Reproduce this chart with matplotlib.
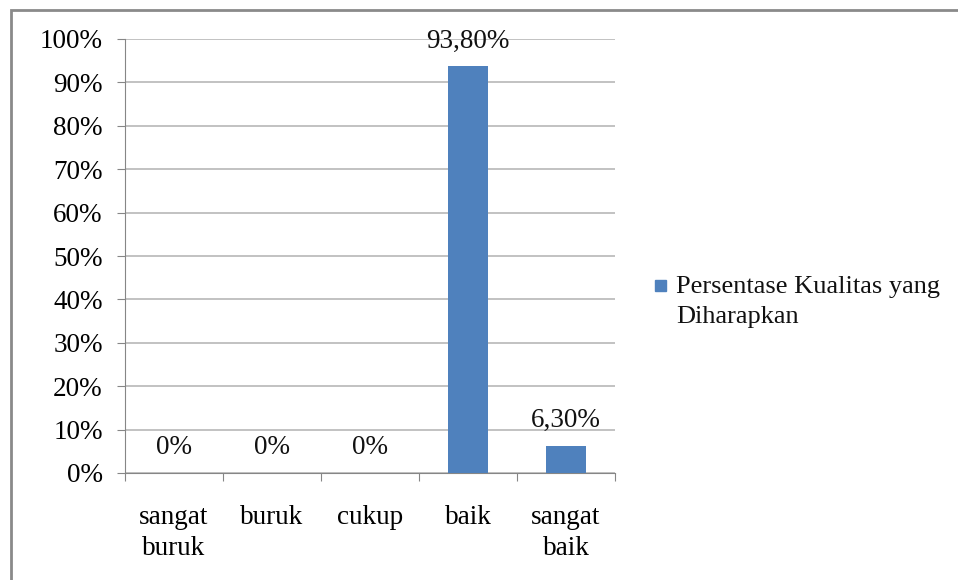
import matplotlib.pyplot as plt
from matplotlib.patches import Rectangle
from matplotlib.ticker import FixedLocator, NullFormatter

categories = ['sangat\nburuk', 'buruk', 'cukup', 'baik', 'sangat\nbaik']
values = [0, 0, 0, 93.8, 6.3]
value_labels = ['0%', '0%', '0%', '93,80%', '6,30%']
y_ticks = [0, 10, 20, 30, 40, 50, 60, 70, 80, 90, 100]
series_name = 'Persentase Kualitas yang\nDiharapkan'
bar_color = '#4f81bd'

plt.rcParams['font.family'] = ['Liberation Serif', 'DejaVu Serif']
FS = 19.5

W, H = 958, 580
fig = plt.figure(figsize=(W / 100, H / 100), dpi=100)

# outer chart frame, runs off the right and bottom edges
fig.patches.append(Rectangle((10.5 / W, -0.1), 1.2, 1.1 - 10 / H,
                             transform=fig.transFigure, fill=False,
                             edgecolor='#8a8a8a', linewidth=2))

ax = fig.add_axes([125 / W, (H - 473) / H, (615 - 125) / W, (473 - 39) / H])

x = list(range(len(categories)))
bars = ax.bar(x, values, width=0.4, color=bar_color, zorder=3)

for xi, v, lab in zip(x, values, value_labels):
    ax.annotate(lab, (xi, v), xytext=(0, 18), textcoords='offset points',
                ha='center', va='center', fontsize=FS, color='#111111')

ax.set_xlim(-0.5, len(categories) - 0.5)
ax.set_ylim(0, 100)
ax.set_yticks(y_ticks)
ax.set_yticklabels([f'{t}%' for t in y_ticks], fontsize=FS)
ax.yaxis.grid(True, color='#bdbdbd', linewidth=1.3, zorder=0)

ax.xaxis.set_major_locator(FixedLocator([i - 0.5 for i in range(len(categories) + 1)]))
ax.xaxis.set_major_formatter(NullFormatter())
ax.xaxis.set_minor_locator(FixedLocator(x))
ax.set_xticklabels(categories, minor=True, fontsize=FS, linespacing=1.3)
ax.tick_params(axis='x', which='minor', length=0, pad=23)
ax.tick_params(axis='x', which='major', length=6, color='#868686')
ax.tick_params(axis='y', length=6, color='#868686', pad=10)

for side in ['top', 'right']:
    ax.spines[side].set_visible(False)
ax.spines['left'].set_color('#868686')
ax.spines['bottom'].set_color('#868686')

# legend: small square key beside the first line of the series name
fig.patches.append(Rectangle((655 / W, 1 - 291 / H), 11 / W, 11 / H,
                             transform=fig.transFigure, color=bar_color))
fig.text(676 / W, 1 - 276 / H, series_name, ha='left', va='top',
         fontsize=19, linespacing=1.45, color='#111111')

fig.savefig('out.png', dpi=100, facecolor='white')
